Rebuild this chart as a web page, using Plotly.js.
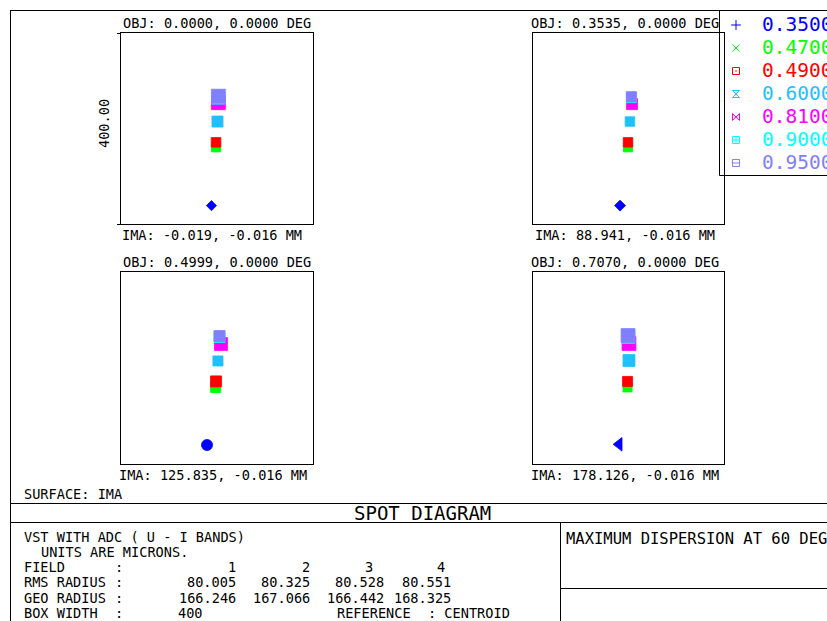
<!DOCTYPE html>
<html><head><meta charset="utf-8">
<script src="https://cdn.plot.ly/plotly-3.0.1.min.js"></script>
<style>html,body{margin:0;padding:0;background:#fff;}#chart{width:827px;height:621px;}</style>
</head><body><div id="chart"></div>
<script>
// ---------------- data ----------------
const wavelengths = ['0.3500','0.4700','0.4900','0.6000','0.8100','0.9000','0.9500'];
const fieldObj = ['OBJ: 0.0000, 0.0000 DEG','OBJ: 0.3535, 0.0000 DEG','OBJ: 0.4999, 0.0000 DEG','OBJ: 0.7070, 0.0000 DEG'];
const fieldIma = ['IMA: -0.019, -0.016 MM','IMA: 88.941, -0.016 MM','IMA: 125.835, -0.016 MM','IMA: 178.126, -0.016 MM'];
const boxWidth = 400; // microns
// spot centres (microns, relative to centroid) and spot extent (microns), wavelength order
const field1X = [-11.5, -2, -2, 1, 3, 3, 3];
const field1Y = [-161.5, -39.5, -29, 14.6, 54, 64.6, 67.7];
const field1D = [21, 19, 20, 23, 29, 27, 29];
const field2X = [-17.7, -1, -1, 3, 7.3, 6, 6];
const field2Y = [-161.5, -39.5, -29, 14.6, 51, 64.6, 66.7];
const field2D = [23, 19, 20, 20, 23, 21, 21];
const field3X = [-20.8, -3, -2, 2, 8.3, 5.2, 5.2];
const field3Y = [-160.4, -40.6, -28, 14.6, 50, 64.6, 66.7];
const field3D = [23, 21, 23, 21, 27, 23, 23];
const field4X = [-19.8, -2, -2, 1, 1, 0, -1];
const field4Y = [-159, -40.6, -28, 15.6, 51, 64.6, 67.7];
const field4D = [29, 19, 21, 25, 29, 27, 29];
const fieldNumbers = ['1','2','3','4'];
const rmsRadius = ['80.005','80.325','80.528','80.551'];
const geoRadius = ['166.246','167.066','166.442','168.325'];

// ---------------- style ----------------
const waveColors = ['#0000ff','#00ff00','#ff0000','#1ec0ff','#ff00ff','#00ffff','#8080ff'];
const legendSymbols = ['cross-thin-open','x-thin-open','square-open-dot','hourglass-open','bowtie-open','square-cross-open','square-open'];
const blueSymbol = ['diamond','diamond','circle','triangle-left'];
const symFactor = {'diamond':1/1.3,'circle':1,'square':1,'triangle-left':0.85};
const FONT = '"DejaVu Sans Mono", "Liberation Mono", monospace';
const W = 827, H = 621;
const PX = v => v / W, PY = v => 1 - v / H;
const colX = [[121,313],[533,724]];
const rowY = [[33,224],[272,464]];

const fields = [
  {x: field1X, y: field1Y, d: field1D},
  {x: field2X, y: field2Y, d: field2D},
  {x: field3X, y: field3Y, d: field3D},
  {x: field4X, y: field4Y, d: field4D}
];

const layout = {
  width: W, height: H, margin: {l:0,r:0,t:0,b:0},
  paper_bgcolor: '#fff', plot_bgcolor: 'rgba(0,0,0,0)',
  showlegend: false, font: {family: FONT, color: '#000'},
  shapes: [], annotations: []
};
const traces = [];

function ann(text, x, y, opts) {
  layout.annotations.push(Object.assign({
    text, x: PX(x), y: PY(y), xref: 'paper', yref: 'paper',
    showarrow: false, xanchor: 'left', yanchor: 'middle',
    font: {family: FONT, size: 13.6, color: '#000'}, borderpad: 0
  }, opts || {}));
}
function hline(x0, x1, y) {
  layout.shapes.push({type:'line', xref:'paper', yref:'paper', x0: PX(x0), x1: PX(x1), y0: PY(y), y1: PY(y), line:{color:'#000', width:1}});
}
function vline(x, y0, y1) {
  layout.shapes.push({type:'line', xref:'paper', yref:'paper', x0: PX(x), x1: PX(x), y0: PY(y0), y1: PY(y1), line:{color:'#000', width:1}});
}

fields.forEach((f, i) => {
  const c = i % 2, r = Math.floor(i / 2);
  const xa = i === 0 ? 'xaxis' : 'xaxis' + (i + 1);
  const ya = i === 0 ? 'yaxis' : 'yaxis' + (i + 1);
  const xr = i === 0 ? 'x' : 'x' + (i + 1);
  const yr = i === 0 ? 'y' : 'y' + (i + 1);
  const pxPerUm = (colX[c][1] - colX[c][0]) / boxWidth;
  const common = {range: [-boxWidth/2, boxWidth/2], showline: true, mirror: true, linecolor: '#000', linewidth: 1,
    showgrid: false, zeroline: false, showticklabels: false, ticks: '', fixedrange: true};
  layout[xa] = Object.assign({domain: [PX(colX[c][0]), PX(colX[c][1])], anchor: yr}, common);
  layout[ya] = Object.assign({domain: [PY(rowY[r][1]), PY(rowY[r][0])], anchor: xr}, common);
  const symbols = wavelengths.map((w, k) => k === 0 ? blueSymbol[i] : 'square');
  traces.push({
    type: 'scatter', mode: 'markers', xaxis: xr, yaxis: yr,
    x: f.x, y: f.y, hoverinfo: 'skip',
    marker: {color: waveColors, symbol: symbols, opacity: 1,
      size: f.d.map((d, k) => d * pxPerUm * symFactor[symbols[k]]),
      line: {width: 0.8, color: waveColors}}
  });
  const cx = c === 0 ? 217 : 625;
  const cxi = c === 0 ? (fieldIma[i].length > 22 ? 213 : 212) : 625;
  ann(fieldObj[i], cx, rowY[r][0] - 10.5, {xanchor: 'center'});
  ann(fieldIma[i], cxi, rowY[r][1] + 11, {xanchor: 'center'});
});

// scale bar on first panel
hline(117, 121, 33.5);
hline(117, 121, 224.5);
ann('400.00', 104, 124, {xanchor: 'center', textangle: -90});

// legend
layout.xaxis5 = {domain: [PX(719), 1], range: [0, 108], visible: false, fixedrange: true, anchor: 'y5'};
layout.yaxis5 = {domain: [PY(175), PY(10)], range: [(175-25)/23, (10-25)/23], visible: false, fixedrange: true, anchor: 'x5'};
layout.shapes.push({type:'rect', xref:'paper', yref:'paper', x0: PX(719.5), x1: 1.05, y0: PY(175.5), y1: PY(10.5),
  line:{color:'#000', width:1}, fillcolor:'rgba(255,255,255,0)', layer:'below'});
traces.push({
  type:'scatter', mode:'markers', xaxis:'x5', yaxis:'y5', hoverinfo:'skip',
  x: wavelengths.map(() => 17), y: wavelengths.map((w, i) => i),
  marker: {symbol: legendSymbols, color: waveColors, size: 7, opacity: 1, line: {width: 1, color: waveColors}}
});
traces.push({
  type:'scatter', mode:'markers', xaxis:'x5', yaxis:'y5', hoverinfo:'skip',
  x: [17], y: [wavelengths.length - 1],
  marker: {symbol: 'line-ew-open', color: waveColors[6], size: 6, line: {width: 1, color: waveColors[6]}}
});
wavelengths.forEach((w, i) => {
  layout.annotations.push({text: w, xref: 'x5', yref: 'y5', x: 42, y: i, showarrow: false,
    xanchor: 'left', yanchor: 'middle', borderpad: 0,
    font: {family: FONT, size: 19.5, color: waveColors[i]}});
});

// frame lines
hline(10, 830, 10.5);
vline(10.5, 10, 625);
hline(10, 830, 503.5);
hline(10, 830, 522.5);
vline(560.5, 522, 625);
hline(560, 830, 588.5);

// bottom texts
ann('SURFACE: IMA', 23, 494);
ann('SPOT DIAGRAM', 423, 513, {xanchor: 'center', font: {family: FONT, size: 19, color: '#000'}});
ann('MAXIMUM DISPERSION AT 60 DEG', 565, 539, {font: {family: FONT, size: 15.5, color: '#000'}});
ann('VST WITH ADC ( U - I BANDS)', 23, 537);
ann('UNITS ARE MICRONS.', 39.5, 552);
const rowsY = {field: 567, rms: 582, geo: 598, box: 613};
ann('FIELD', 23, rowsY.field);
ann('RMS RADIUS', 23, rowsY.rms);
ann('GEO RADIUS', 23, rowsY.geo);
ann('BOX WIDTH', 23, rowsY.box);
[rowsY.field, rowsY.rms, rowsY.geo, rowsY.box].forEach(y => ann(':', 113.5, y));
const colRight = [237, 311, 385, 452];
const fieldRight = [237, 311, 374, 446];
fieldNumbers.forEach((t, k) => ann(t, fieldRight[k], rowsY.field, {xanchor: 'right'}));
rmsRadius.forEach((t, k) => ann(t, colRight[k], rowsY.rms, {xanchor: 'right'}));
geoRadius.forEach((t, k) => ann(t, colRight[k], rowsY.geo, {xanchor: 'right'}));
ann(String(boxWidth), 177, rowsY.box);
ann('REFERENCE', 336, rowsY.box);
ann(': CENTROID', 511, rowsY.box, {xanchor: 'right'});

Plotly.newPlot('chart', traces, layout, {staticPlot: true, displayModeBar: false});
</script></body></html>
